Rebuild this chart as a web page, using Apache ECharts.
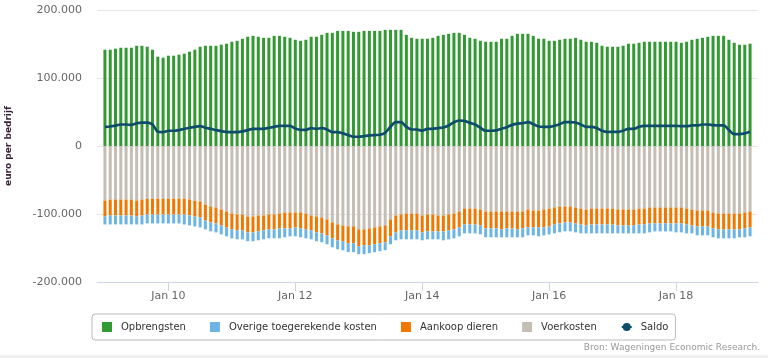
<!DOCTYPE html>
<html><head><meta charset="utf-8">
<script src="https://cdn.jsdelivr.net/npm/echarts@6/dist/echarts.min.js"></script>
<style>html,body{margin:0;padding:0;background:#fff}#c{width:768px;height:358px}</style>
</head><body><div id="c"></div>
<script>
const months = [
 '2009-01','2009-02','2009-03','2009-04','2009-05','2009-06','2009-07','2009-08','2009-09','2009-10','2009-11','2009-12',
 '2010-01','2010-02','2010-03','2010-04','2010-05','2010-06','2010-07','2010-08','2010-09','2010-10','2010-11','2010-12',
 '2011-01','2011-02','2011-03','2011-04','2011-05','2011-06','2011-07','2011-08','2011-09','2011-10','2011-11','2011-12',
 '2012-01','2012-02','2012-03','2012-04','2012-05','2012-06','2012-07','2012-08','2012-09','2012-10','2012-11','2012-12',
 '2013-01','2013-02','2013-03','2013-04','2013-05','2013-06','2013-07','2013-08','2013-09','2013-10','2013-11','2013-12',
 '2014-01','2014-02','2014-03','2014-04','2014-05','2014-06','2014-07','2014-08','2014-09','2014-10','2014-11','2014-12',
 '2015-01','2015-02','2015-03','2015-04','2015-05','2015-06','2015-07','2015-08','2015-09','2015-10','2015-11','2015-12',
 '2016-01','2016-02','2016-03','2016-04','2016-05','2016-06','2016-07','2016-08','2016-09','2016-10','2016-11','2016-12',
 '2017-01','2017-02','2017-03','2017-04','2017-05','2017-06','2017-07','2017-08','2017-09','2017-10','2017-11','2017-12',
 '2018-01','2018-02','2018-03','2018-04','2018-05','2018-06','2018-07','2018-08','2018-09','2018-10','2018-11','2018-12',
 '2019-01','2019-02','2019-03'
];
const opbrengsten = [
 141600,141600,143100,144500,144500,144500,147400,147400,146000,141600,
 131400,129900,132800,132800,134300,135800,138700,141600,146000,147400,
 147400,147400,148900,150400,153300,154700,157700,160600,162000,160600,
 159100,159100,162000,162000,160600,159100,156200,154700,156200,160600,
 160600,163500,166400,166400,169300,169300,169300,167900,167900,169300,
 169300,169300,169300,170800,170800,170800,170800,163500,159100,157700,
 157700,157700,159100,162000,163500,165000,166400,166400,163500,159100,
 157700,154700,153300,153300,153300,157700,157700,162000,165000,165000,
 165000,162000,157700,157700,154700,154700,156200,157700,157700,159100,
 156200,153300,153300,151800,147400,146000,146000,146000,147400,150400,
 150400,151800,153300,153300,153300,153300,153300,153300,153300,151800,
 153300,156200,157700,159100,160600,162000,162000,162000,156200,151800,
 148900,148900,150400
];
const voerkosten = [
 -80300,-78800,-78800,-78800,-78800,-78800,-80300,-78800,-77400,-77400,
 -77400,-77400,-77400,-77400,-77400,-77400,-78800,-80300,-81700,-86100,
 -89000,-90500,-93400,-96300,-99300,-100700,-100700,-103600,-103600,-102200,
 -102200,-100700,-100700,-99300,-97800,-97800,-97800,-97800,-99300,-102200,
 -103600,-105100,-108000,-112400,-115300,-116800,-118200,-118200,-122600,-122600,
 -121200,-119700,-118200,-116800,-108000,-102200,-100700,-99300,-99300,-99300,
 -102200,-100700,-100700,-102200,-102200,-100700,-99300,-96300,-92000,-92000,
 -92000,-93400,-96300,-96300,-96300,-96300,-96300,-96300,-96300,-96300,
 -93400,-94900,-94900,-93400,-92000,-90500,-89000,-89000,-89000,-90500,
 -92000,-93400,-92000,-92000,-92000,-92000,-92000,-93400,-93400,-93400,
 -93400,-92000,-92000,-90500,-90500,-90500,-90500,-90500,-90500,-90500,
 -92000,-93400,-94900,-94900,-94900,-97800,-99300,-99300,-99300,-99300,
 -99300,-97800,-96300
];
const aankoopDieren = [
 -23400,-23400,-23400,-23400,-23400,-23400,-23400,-23400,-23400,-23400,
 -23400,-23400,-23400,-23400,-23400,-23400,-23400,-23400,-23400,-23400,
 -23400,-23400,-23400,-23400,-23400,-23400,-23400,-23400,-23400,-23400,
 -21900,-21900,-21900,-21900,-23400,-23400,-21900,-23400,-23400,-21900,
 -23400,-23400,-23400,-23400,-23400,-23400,-24800,-24800,-24800,-23400,
 -24800,-24800,-24800,-24800,-24800,-24800,-23400,-24800,-24800,-24800,
 -24800,-24800,-24800,-23400,-23400,-23400,-23400,-23400,-23400,-23400,
 -23400,-23400,-24800,-24800,-24800,-26300,-24800,-24800,-26300,-24800,
 -26300,-24800,-24800,-26300,-26300,-24800,-24800,-23400,-23400,-23400,
 -23400,-23400,-23400,-23400,-23400,-23400,-23400,-23400,-23400,-23400,
 -23400,-23400,-23400,-23400,-23400,-23400,-23400,-23400,-23400,-23400,
 -23400,-23400,-23400,-23400,-23400,-23400,-23400,-23400,-23400,-23400,
 -23400,-23400,-23400
];
const overigeKosten = [
 -11700,-13100,-13100,-13100,-13100,-13100,-11700,-13100,-13100,-13100,
 -13100,-13100,-13100,-13100,-13100,-14600,-14600,-14600,-14600,-13100,
 -13100,-13100,-13100,-13100,-13100,-13100,-13100,-13100,-13100,-13100,
 -13100,-13100,-13100,-14600,-13100,-11700,-13100,-13100,-13100,-13100,
 -13100,-13100,-13100,-13100,-13100,-13100,-13100,-13100,-11700,-13100,
 -11700,-11700,-11700,-11700,-11700,-11700,-13100,-13100,-13100,-13100,
 -11700,-11700,-11700,-11700,-13100,-13100,-13100,-13100,-13100,-13100,
 -13100,-13100,-13100,-13100,-13100,-11700,-13100,-13100,-11700,-13100,
 -11700,-11700,-13100,-11700,-11700,-13100,-13100,-13100,-13100,-13100,
 -13100,-11700,-13100,-13100,-13100,-13100,-13100,-11700,-11700,-11700,
 -11700,-13100,-13100,-13100,-11700,-11700,-11700,-11700,-13100,-13100,
 -13100,-11700,-13100,-13100,-13100,-13100,-13100,-13100,-13100,-13100,
 -11700,-13100,-13100
];
const saldo = [
 28200,28700,30000,31600,31600,31000,33500,34500,34500,31600,
 21000,20400,22400,22400,23400,25300,26800,28200,29200,26800,
 25300,23400,21900,20900,20400,20400,21400,23400,25300,25300,
 25300,26800,28200,29700,29700,29700,25800,23800,23800,26300,
 25300,26300,24300,20400,20400,18500,16100,13600,13600,14600,
 15600,16100,16500,19500,28200,35000,35000,28200,24300,24300,
 22400,25300,25300,26300,27300,30200,35000,37500,37000,34000,
 31600,26800,22400,22400,22900,25300,27700,31100,33000,33500,
 35000,32100,28700,28200,28200,29700,32100,35000,35000,34500,
 31600,28200,28200,26300,22400,20600,20900,20900,22400,25300,
 25300,28200,29700,29700,29700,29700,29700,29700,29700,29200,
 29200,30200,30200,31600,31600,30700,30200,30200,23400,17500,
 17500,18500,20900
];
const tickMonths = ['2010-01','2012-01','2014-01','2016-01','2018-01'];
const tickLabels = ['Jan 10','Jan 12','Jan 14','Jan 16','Jan 18'];
const seriesNames = ['Opbrengsten','Overige toegerekende kosten','Aankoop dieren','Voerkosten','Saldo'];
const source = 'Bron: Wageningen Economic Research.';

// axis categories: one empty month of padding on each side (as in the original datetime axis)
const axisMonths = ['2008-12'].concat(months, ['2019-04']);
const padded = arr => [null].concat(arr, [null]);
function fmtNum(v){
  const s = Math.abs(v).toFixed(0).replace(/\B(?=(\d{3})+(?!\d))/g, '.');
  return (v < 0 ? '-' : '') + s;
}
const isTick = (idx, val) => tickMonths.indexOf(axisMonths[idx]) >= 0;
const FONT = 'DejaVu Sans';

const chart = echarts.init(document.getElementById('c'), null, {renderer: 'canvas'});
chart.setOption({
  animation: false,
  backgroundColor: '#ffffff',
  textStyle: {fontFamily: FONT},
  grid: {left: 97, right: 10, top: 10, bottom: 76, containLabel: false, outerBoundsMode: 'none'},
  xAxis: {
    type: 'category',
    data: axisMonths,
    boundaryGap: true,
    axisLine: {onZero: false, lineStyle: {color: '#ccd6eb', width: 1}},
    axisTick: {show: true, alignWithLabel: true, interval: isTick, length: 9, lineStyle: {color: '#ccd6eb'}},
    axisLabel: {
      interval: isTick,
      color: '#666666', fontSize: 11, fontFamily: FONT, margin: 9,
      formatter: function (v) { const i = tickMonths.indexOf(v); return i >= 0 ? tickLabels[i] : ''; }
    },
    splitLine: {show: false}
  },
  yAxis: {
    type: 'value',
    min: -200000, max: 200000, interval: 100000,
    name: 'euro per bedrijf',
    nameLocation: 'middle',
    nameRotate: 90,
    nameGap: 84,
    nameTextStyle: {fontWeight: 'bold', fontSize: 9, color: '#3a1f38', fontFamily: FONT},
    axisLine: {show: false},
    axisTick: {show: false},
    axisLabel: {color: '#666666', fontSize: 11, fontFamily: FONT, margin: 15, formatter: fmtNum},
    splitLine: {lineStyle: {color: '#e6e6e6', width: 1}}
  },
  legend: {
    left: 92, top: 314,
    itemWidth: 10, itemHeight: 10, itemGap: 24,
    padding: [8, 7, 8, 10],
    borderColor: '#bbbbbb', borderWidth: 1, borderRadius: 3,
    backgroundColor: '#ffffff',
    textStyle: {fontFamily: FONT, fontSize: 10, color: '#333333', padding: [0, 0, 0, 4]},
    data: [
      {name: seriesNames[0], icon: 'rect'},
      {name: seriesNames[1], icon: 'rect'},
      {name: seriesNames[2], icon: 'rect'},
      {name: seriesNames[3], icon: 'rect'},
      {name: seriesNames[4]}
    ]
  },
  series: [
    {name: seriesNames[0], type: 'bar', stack: 'total', barWidth: 3, itemStyle: {color: '#339933'}, data: padded(opbrengsten)},
    {name: seriesNames[3], type: 'bar', stack: 'total', barWidth: 3, itemStyle: {color: '#c4beb4'}, data: padded(voerkosten)},
    {name: seriesNames[2], type: 'bar', stack: 'total', barWidth: 3, itemStyle: {color: '#f07800'}, data: padded(aankoopDieren)},
    {name: seriesNames[1], type: 'bar', stack: 'total', barWidth: 3, itemStyle: {color: '#6cb4e4'}, data: padded(overigeKosten)},
    {name: seriesNames[4], type: 'line', z: 10, smooth: 0.3, symbol: 'circle', symbolSize: 7, showSymbol: false,
     connectNulls: false,
     itemStyle: {color: '#0e4c6c'}, lineStyle: {color: '#0e4c6c', width: 2.7}, data: padded(saldo)}
  ],
  graphic: [
    {type: 'rect', left: 0, top: 355, shape: {width: 768, height: 3}, style: {fill: '#efefeb'}, silent: true},
    {type: 'text', right: 8, top: 343, style: {text: source, fill: '#999999', font: '9px "DejaVu Sans"'}}
  ]
});
</script>
</body></html>
